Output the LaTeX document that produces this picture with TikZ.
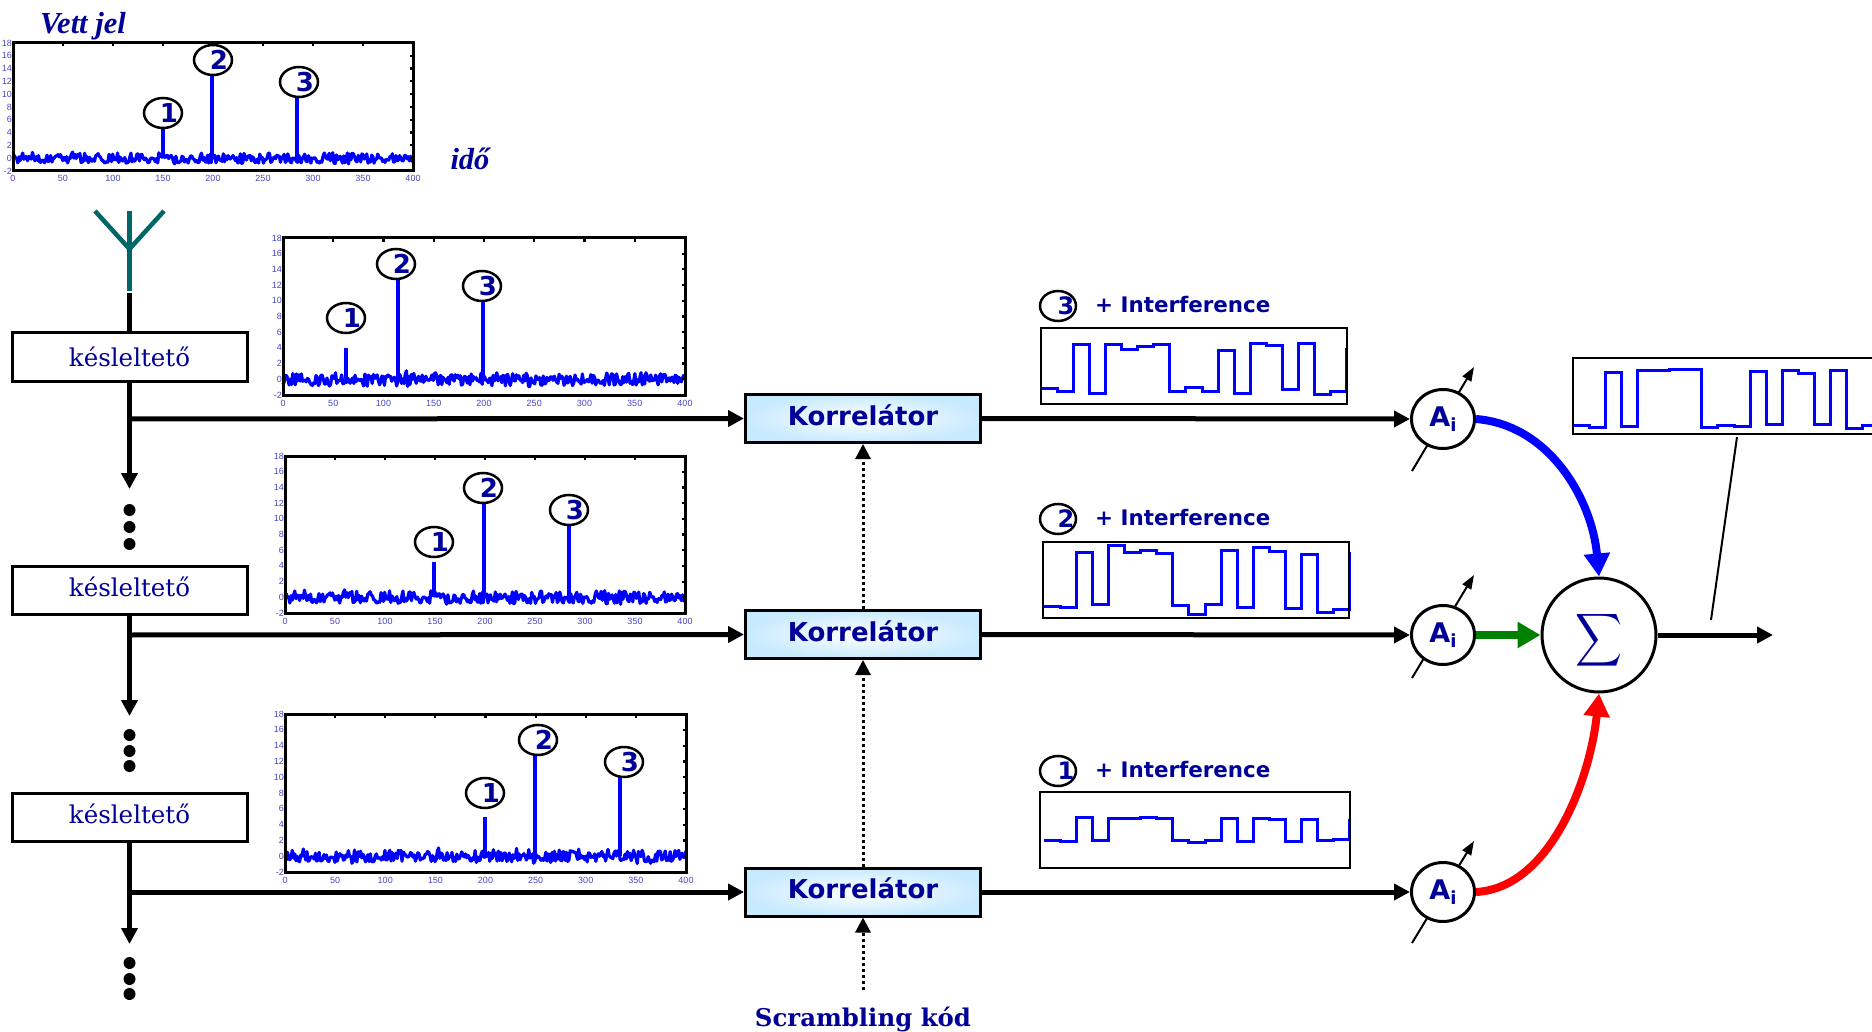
\documentclass[tikz,border=0pt]{standalone}
\usepackage{fontspec}
\usepackage{graphicx}
\usetikzlibrary{arrows.meta,shapes.geometric}
\setmainfont{DejaVu Serif}
\setsansfont{DejaVu Sans}
\newfontfamily\plotfont{Liberation Sans}
\newfontfamily\itfont{Liberation Serif}
\definecolor{navy}{RGB}{0,0,153}
\definecolor{tickc}{RGB}{70,70,200}
\definecolor{teal2}{RGB}{0,102,102}
\definecolor{wave}{RGB}{0,0,255}
\definecolor{grn}{RGB}{0,128,0}
\definecolor{korr}{RGB}{200,234,255}
\newcommand\fsz[1]{\fontsize{#1}{#1}\selectfont}
\newcommand\shifted[2]{\makebox[0pt]{\hspace{#1}#2}}
\tikzset{
  x=1pt,y=-1pt,
  mainarrow/.style={line width=5pt,-{Triangle[length=16pt,width=16pt]}},
  thinarrow/.style={line width=2pt,-{Triangle[length=14pt,width=10pt]}},
  dottedarrow/.style={line width=3pt,dash pattern=on 3pt off 3pt,-{Triangle[length=15pt,width=15pt,sep=0pt]}},
  fatcurve/.style={line width=8pt,-{Triangle[length=23pt,width=25pt]}},
  delaybox/.style={draw,line width=3pt,fill=white,minimum width=235pt,minimum height=48pt,inner sep=0pt,font=\fsz{24.5},text=navy},
  korrbox/.style={draw,line width=3pt,inner color=white,outer color=korr,minimum width=235pt,minimum height=48pt,inner sep=0pt,font=\sffamily\bfseries\fsz{26},text=navy,text depth=7pt},
  ainode/.style={draw,ellipse,line width=3pt,fill=white,minimum width=63pt,minimum height=59pt,inner sep=0pt,font=\sffamily\bfseries\fsz{27},text=navy},
  sumnode/.style={draw,circle,line width=3pt,fill=white,minimum size=114pt,inner sep=0pt},
  sigmatext/.style={inner sep=0pt,text=navy},
  peaklabel/.style={draw,ellipse,line width=2.5pt,fill=white,minimum width=38pt,minimum height=30pt,inner sep=0pt,font=\sffamily\bfseries\fsz{26},text=navy},
  rowlabel/.style={draw,ellipse,line width=2.5pt,fill=white,minimum width=36pt,minimum height=30pt,inner sep=0pt,font=\sffamily\bfseries\fsz{24},text=navy},
  intertext/.style={anchor=west,inner sep=0pt,font=\sffamily\bfseries\fsz{21.4},text=navy},
  dotnode/.style={circle,fill=black,minimum size=12pt,inner sep=0pt},
  wavebox/.style={draw,line width=2.5pt,minimum width=306pt,minimum height=76pt,inner sep=0pt},
  waveline/.style={line width=3pt,draw=wave,line join=miter},
  noise/.style={line width=3.2pt,draw=wave,line join=round},
  peak/.style={line width=4pt,draw=wave},
  plotframe/.style={line width=3pt,draw=black},
  tickmark/.style={line width=2.2pt,draw=black},
  ticklab/.style={inner sep=0pt,font=\plotfont\fsz{9},text=tickc},
  antenna/.style={line width=4.5pt,draw=teal2},
  blackline/.style={line width=5pt},
  heading/.style={inner sep=0pt,font=\itfont\bfseries\itshape\fsz{30.5},text=navy},
  scrtext/.style={inner sep=0pt,font=\bfseries\fsz{24.4},text=navy}
}
% #1 left #2 top #3 right #4 bottom #5 seed #6 peaks x/height
\newcommand\plotpanel[6]{%
  \begin{scope}[shift={(#1,#4)},xscale={(#3-#1)/400},yscale={-(#4-#2)/20}]
    \pgfmathsetseed{#5}
    \draw[noise] plot[samples=330,domain=0:400] (\x,{2+0.8*rand+0.6*rand*rand*rand});
    \foreach \px/\ph in {#6}{\draw[peak] (\px,2) -- (\px,2+\ph);}
    \draw[plotframe] (0,0) rectangle (400,20);
    \foreach \tx in {50,100,...,350}{\draw[tickmark] (\tx,20) -- (\tx,19.5);}
    \foreach \ty in {2,4,...,18}{\draw[tickmark] (400,\ty) -- (397,\ty);}
    \foreach \tx in {0,50,...,400}{\node[ticklab] (xl#5x\tx) at (\tx,-1.1) {\tx};}
    \foreach \ty [evaluate=\ty as \tv using {int(\ty-2)}] in {0,2,...,20}{\node[ticklab,anchor=east] (yl#5y\ty) at (-1,\ty) {\tv};}
  \end{scope}}
% #1 x0 #2 y0 #3 first level #4 following levels (zoomed y, 3x)
\newcommand\wavetrace[4]{%
  \begin{scope}[shift={(#1,#2)},xscale=16.1,yscale=0.3333]
    \draw[waveline] (0,#3)
      \foreach \v [count=\i from 1] in {#4}{ -| (\i,\v) };
  \end{scope}}
\begin{document}
\begin{tikzpicture}
\useasboundingbox (0,0) rectangle (1872,1032);
\clip (0,0) rectangle (1872,1032);

\node[heading] (vett) at (83,26) {Vett jel};
\node[heading] (ido) at (470,159) {idő};

% plots
\plotpanel{13}{43}{413}{171}{11}{150/4.5,199/13,284/10}
\plotpanel{283}{238}{685}{395}{23}{63/4,114/13,199/10}
\plotpanel{285}{456}{685}{613}{11}{149/4.5,199/12,284/9.5}
\plotpanel{285}{714}{686}{872}{37}{199/5,249/13,334/10}

\node[peaklabel] (a1) at (163,113) {\shifted{12pt}{1}};
\node[peaklabel] (a2) at (213,60)  {\shifted{12pt}{2}};
\node[peaklabel] (a3) at (299,82)  {\shifted{12pt}{3}};
\node[peaklabel] (b1) at (346,318) {\shifted{12pt}{1}};
\node[peaklabel] (b2) at (396,264) {\shifted{12pt}{2}};
\node[peaklabel] (b3) at (482,286) {\shifted{12pt}{3}};
\node[peaklabel] (c1) at (434,542) {\shifted{12pt}{1}};
\node[peaklabel] (c2) at (483,488) {\shifted{12pt}{2}};
\node[peaklabel] (c3) at (569,510) {\shifted{12pt}{3}};
\node[peaklabel] (d1) at (485,793) {\shifted{12pt}{1}};
\node[peaklabel] (d2) at (538,740) {\shifted{12pt}{2}};
\node[peaklabel] (d3) at (624,762) {\shifted{12pt}{3}};

% antenna
\coordinate (antTop) at (129.5,211);
\coordinate (antJoin) at (129.5,249);
\coordinate (antBot) at (129.5,291);
\coordinate (antL) at (95,211);
\coordinate (antR) at (164,211);
\draw[antenna] (antTop) -- (antBot);
\draw[antenna] (antL) -- (antJoin) -- (antR);
\coordinate (feed) at (129.5,293);

% delay boxes
\node[delaybox] (del1) at (129.5,357) {késleltető};
\node[delaybox,text depth=7pt] (del2) at (129.5,590.5) {késleltető};
\node[delaybox,text depth=7pt] (del3) at (129.5,817.5) {késleltető};
\draw[blackline] (feed) -- (del1.north);

% correlators
\node[korrbox] (kor1) at (863,418.5) {Korrelátor};
\node[korrbox] (kor2) at (863,634.5) {Korrelátor};
\node[korrbox] (kor3) at (863,892) {Korrelátor};

% delay line
\coordinate (tap1) at (129.5,419);
\coordinate (tap2) at (129.5,635);
\coordinate (tap3) at (129.5,892);
\coordinate (end1) at (129.5,489);
\coordinate (end2) at (129.5,716);
\coordinate (end3) at (129.5,944);
\draw[mainarrow] (del1.south) -- (end1);
\draw[mainarrow] (del2.south) -- (end2);
\draw[mainarrow] (del3.south) -- (end3);
\draw[mainarrow] (tap1) -- (kor1.west);
\draw[mainarrow] (tap2) -- (kor2.west);
\draw[mainarrow] (tap3) -- (kor3.west);

\node[dotnode] (p1) at (129.5,510) {};
\node[dotnode] (p2) at (129.5,527) {};
\node[dotnode] (p3) at (129.5,544) {};
\node[dotnode] (p4) at (129.5,735) {};
\node[dotnode] (p5) at (129.5,751) {};
\node[dotnode] (p6) at (129.5,766) {};
\node[dotnode] (p7) at (129.5,963) {};
\node[dotnode] (p8) at (129.5,979) {};
\node[dotnode] (p9) at (129.5,994) {};

% scrambling code
\node[scrtext] (scr) at (863,1019) {Scrambling kód};
\coordinate (scrTop) at (863,990);
\draw[dottedarrow] (scrTop) -- (kor3.south);
\draw[dottedarrow] (kor3.north) -- (kor2.south);
\draw[dottedarrow] (kor2.north) -- (kor1.south);

% gain adjust arrows
\coordinate (ad1a) at (1412,471); \coordinate (ad1b) at (1474,367);
\coordinate (ad2a) at (1412,678); \coordinate (ad2b) at (1474,575);
\coordinate (ad3a) at (1412,943); \coordinate (ad3b) at (1474,841);
\draw[thinarrow] (ad1a) -- (ad1b);
\draw[thinarrow] (ad2a) -- (ad2b);
\draw[thinarrow] (ad3a) -- (ad3b);

\node[ainode] (ai1) at (1443,419) {A\raisebox{-5pt}{\fsz{18}i}};
\node[ainode] (ai2) at (1443,635) {A\raisebox{-5pt}{\fsz{18}i}};
\node[ainode] (ai3) at (1443,892) {A\raisebox{-5pt}{\fsz{18}i}};
\node[sumnode] (sum) at (1599,635) {};
\node[sigmatext] (sig) at (1599,640) {\resizebox*{47pt}{59pt}{$\displaystyle\sum$}};

\draw[mainarrow] (kor1.east) -- (ai1.west);
\draw[mainarrow] (kor2.east) -- (ai2.west);
\draw[mainarrow] (kor3.east) -- (ai3.west);

\draw[fatcurve,draw=wave] (ai1.east) .. controls (1550,425) and (1592,500) .. (sum.north);
\draw[fatcurve,draw=grn] (ai2.east) -- (sum.west);
\draw[fatcurve,draw=red] (ai3.east) .. controls (1550,888) and (1590,780) .. (sum.south);

\coordinate (outEnd) at (1773,635);
\draw[mainarrow] (sum.east) -- (outEnd);

% waveforms
\wavetrace{1041}{280}{327}{335,193,340,195,210,200,193,335,322,335,212,340,190,197,330,190,345,335,205}
\node[wavebox] (wfA) at (1194,366) {};
\wavetrace{1044}{500}{319}{323,157,313,138,158,153,160,316,343,313,152,322,144,156,325,164,338,328,155}
\node[wavebox] (wfB) at (1196,580) {};
\wavetrace{1044}{740}{302}{305,232,303,235,235,234,235,302,307,303,235,306,236,239,306,239,302,300,238}
\node[wavebox,minimum width=310pt] (wfC) at (1195,830) {};
\wavetrace{1573}{280}{437}{442,277,440,272,272,270,268,442,438,440,275,433,273,280,433,272,445,438,438}
\node[wavebox,minimum width=320pt] (wfOut) at (1733,396) {};

\coordinate (tlA) at (1737,437);
\coordinate (tlB) at (1711,620);
\draw[line width=2pt] (tlA) -- (tlB);

% row labels
\node[rowlabel] (r3) at (1058,306) {\shifted{16pt}{3}};
\node[intertext] (t3) at (1095,305) {+ Interference};
\node[rowlabel] (r2) at (1058,519) {\shifted{16pt}{2}};
\node[intertext] (t2) at (1095,518) {+ Interference};
\node[rowlabel] (r1) at (1058,771) {\shifted{16pt}{1}};
\node[intertext] (t1) at (1095,770) {+ Interference};
\end{tikzpicture}
\end{document}
